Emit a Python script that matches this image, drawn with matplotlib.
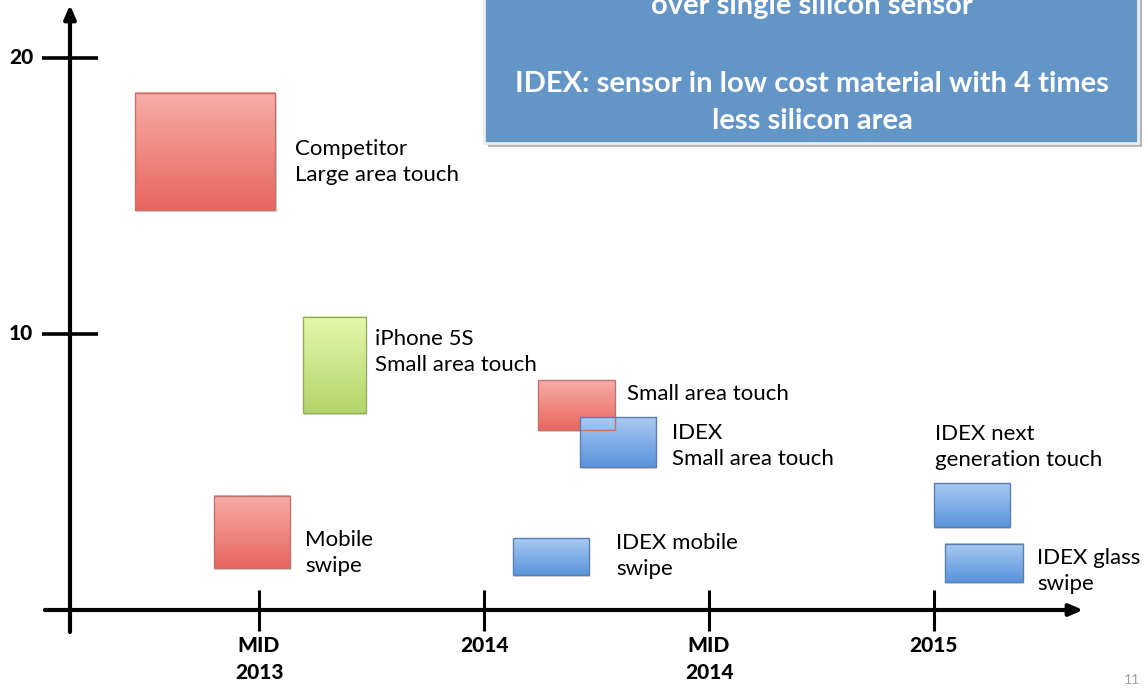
import numpy as np
import matplotlib
matplotlib.use("Agg")
import matplotlib.pyplot as plt
from matplotlib.patches import Rectangle
from matplotlib.colors import LinearSegmentedColormap

plt.rcParams['font.family'] = ['Lato', 'DejaVu Sans']

# data: time in years, value on the vertical scale
names = ["Competitor\nLarge area touch", "iPhone 5S\nSmall area touch", "Mobile\nswipe",
         "Small area touch", "IDEX\nSmall area touch", "IDEX mobile\nswipe",
         "IDEX next\ngeneration touch", "IDEX glass\nswipe"]
t_start = [2013.224, 2013.598, 2013.400, 2014.120, 2014.213, 2014.064, 2015.000, 2015.024]
t_end = [2013.536, 2013.738, 2013.569, 2014.291, 2014.382, 2014.233, 2015.169, 2015.198]
v_low = [14.49, 7.14, 1.52, 6.52, 5.18, 1.27, 3.01, 1.01]
v_high = [18.73, 10.62, 4.13, 8.33, 6.99, 2.61, 4.60, 2.39]
kind = ["red", "green", "red", "red", "blue", "blue", "blue", "blue"]

x_ticks = [2013.5, 2014.0, 2014.5, 2015.0]
x_tick_labels = ["MID\n2013", "2014", "MID\n2014", "2015"]
y_ticks = [10, 20]

box_lines = ["over single silicon sensor", "", "IDEX: sensor in low cost material with 4 times",
             "less silicon area"]

grad = {
    "red": ("#f9aca8", "#e8665f", "#c0726c"),
    "blue": ("#a9caf3", "#5a94dc", "#5a7fae"),
    "green": ("#e6f8ac", "#b2d56a", "#93ad5d"),
}

# pixel mapping of the slide: x axis 450 px per year, y axis 27.6 px per unit
px_year = 450.0
px_unit = 27.6
x0 = 2014 - 484 / px_year
x1 = 2014 + (1147 - 484) / px_year
y0 = (610 - 688) / px_unit
y1 = 610 / px_unit

fig = plt.figure(figsize=(11.47, 6.88), dpi=100)
ax = fig.add_axes([0, 0, 1, 1])
ax.set_xlim(x0, x1)
ax.set_ylim(y0, y1)
ax.axis("off")

def px(x):
    return x0 + x / px_year

def py(y):
    return (610 - y) / px_unit

t_axis = px(70)

# axes with arrows
ax.annotate("", xy=(t_axis, py(5)), xytext=(t_axis, py(632)),
            arrowprops=dict(arrowstyle="-|>,head_length=0.8,head_width=0.35", lw=3, color="black",
                            shrinkA=0, shrinkB=0))
ax.annotate("", xy=(px(1083), 0), xytext=(px(45), 0),
            arrowprops=dict(arrowstyle="-|>,head_length=0.8,head_width=0.35", lw=3, color="black",
                            shrinkA=0, shrinkB=0))
for v in y_ticks:
    ax.plot([px(42), px(98)], [v, v], color="black", lw=2.6, solid_capstyle="butt")
    ax.text(px(33), v, str(v), ha="right", va="center", fontsize=15, fontweight="black")
for t, lab in zip(x_ticks, x_tick_labels):
    ax.plot([t, t], [py(590), py(631)], color="black", lw=2.2, solid_capstyle="butt")
    ax.text(t, py(636), lab, ha="center", va="top", fontsize=15, fontweight="black", linespacing=1.5)

# gradient rectangles
g = np.linspace(0, 1, 64).reshape(-1, 1)
for i in range(len(names)):
    top, bot, edge = grad[kind[i]]
    cmap = LinearSegmentedColormap.from_list("g", [bot, top])
    w = t_end[i] - t_start[i]
    h = v_high[i] - v_low[i]
    # shadow
    ax.add_patch(Rectangle((t_start[i] + 0.003, v_low[i] - 0.08), w, h, color="#c4c4c4",
                           alpha=0.6, zorder=2, lw=0))
    ax.imshow(g, cmap=cmap, extent=(t_start[i], t_end[i], v_low[i], v_high[i]),
              origin="lower", aspect="auto", zorder=3, interpolation="bilinear")
    ax.add_patch(Rectangle((t_start[i], v_low[i]), w, h, fill=False, ec=edge, lw=1.0, zorder=4))

# labels next to the boxes
lab_pos = [(295, 162), (375, 352), (305, 553), (627, 394), (672, 446), (616, 556),
           (935, 447), (1037, 571)]
for name, (lx, ly) in zip(names, lab_pos):
    ax.text(px(lx), py(ly), name, ha="left", va="center", fontsize=16, linespacing=1.42, zorder=5)

# blue callout box at top
ax.add_patch(Rectangle((px(488), py(147)), (1142 - 488) / px_year, 160 / px_unit,
                       color="#b8b8b8", lw=0, zorder=5))
ax.add_patch(Rectangle((px(484), py(143)), (1138 - 484) / px_year, 160 / px_unit,
                       fc="#6395c7", ec="#e8eef5", lw=2, zorder=6))
box_y = [6, 46, 84, 121]
for s, by in zip(box_lines, box_y):
    ax.text(px(812), py(by), s, ha="center", va="center", fontsize=21, fontweight="bold",
            color="white", zorder=7)

ax.text(px(1132), py(680), "11", ha="center", va="center", fontsize=10, color="#a0a0a0")

fig.savefig("out.png", dpi=100)
